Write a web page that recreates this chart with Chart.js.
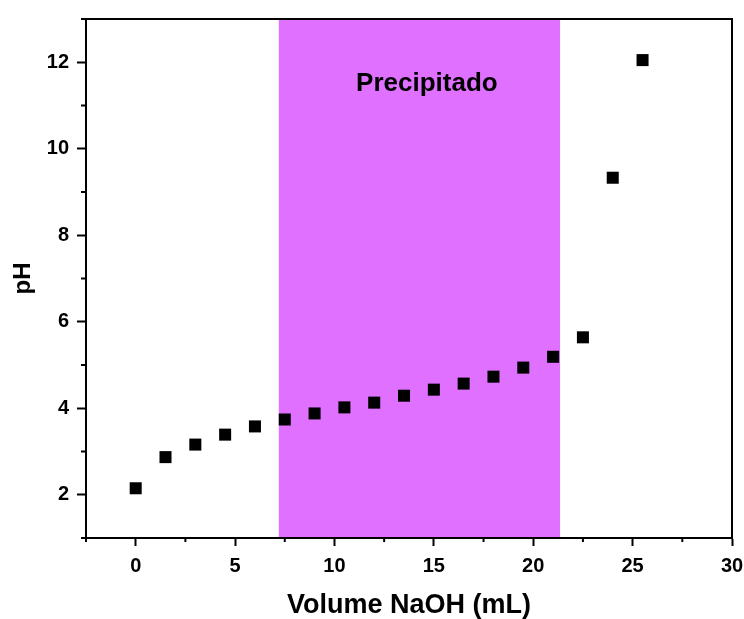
<!DOCTYPE html>
<html>
<head>
<meta charset="utf-8">
<script src="https://cdn.jsdelivr.net/npm/chart.js@4.4.0/dist/chart.umd.min.js"></script>
<style>
  html, body { margin: 0; padding: 0; background: #fff; }
</style>
</head>
<body>
<canvas id="phChart" width="744" height="619"></canvas>
<script>
// titration data
const volumeNaOH = [0, 1.5, 3, 4.5, 6, 7.5, 9, 10.5, 12, 13.5, 15, 16.5, 18, 19.5, 21, 22.5, 24, 25.5];
const phValues = [2.15, 2.87, 3.16, 3.39, 3.58, 3.74, 3.88, 4.02, 4.13, 4.29, 4.43, 4.57, 4.73, 4.94, 5.19, 5.64, 9.33, 12.05];

// shaded zone where the precipitate shows up
const precipitadoRange = [7.2, 21.35];
const precipitadoLabel = 'Precipitado';
const precipitadoLabelAt = [14.65, 11.5];

const xMajorTicks = [0, 5, 10, 15, 20, 25, 30];
const xMinorTicks = [-2.5, 2.5, 7.5, 12.5, 17.5, 22.5, 27.5];
const yMajorTicks = [2, 4, 6, 8, 10, 12];
const yMinorTicks = [1, 3, 5, 7, 9, 11, 13];

const FONT = "'Liberation Sans', Arial, sans-serif";
Chart.defaults.font.family = FONT;

const bandPlugin = {
    id: 'band',
    beforeDraw: (chart) => {
        const { ctx, chartArea, scales: { x } } = chart;
        const x0 = x.getPixelForValue(precipitadoRange[0]);
        const x1 = x.getPixelForValue(precipitadoRange[1]);
        ctx.save();
        ctx.fillStyle = '#E070FF';
        ctx.fillRect(x0, chartArea.top, x1 - x0, chartArea.bottom - chartArea.top);
        ctx.restore();
    },
    beforeDatasetsDraw: (chart) => {
        const { ctx, scales: { x, y } } = chart;
        ctx.save();
        ctx.fillStyle = '#000';
        ctx.font = 'bold 26px ' + FONT;
        ctx.textAlign = 'center';
        ctx.textBaseline = 'middle';
        ctx.fillText(precipitadoLabel, x.getPixelForValue(precipitadoLabelAt[0]), y.getPixelForValue(precipitadoLabelAt[1]));
        ctx.restore();
    }
};

// box frame + minor ticks (chart.js has no minor ticks)
const framePlugin = {
    id: 'frame',
    afterDraw: (chart) => {
        const { ctx, chartArea: a, scales: { x, y } } = chart;
        ctx.save();
        ctx.strokeStyle = '#000';
        ctx.lineWidth = 2;
        ctx.beginPath();
        ctx.moveTo(a.left, a.top);
        ctx.lineTo(a.right, a.top);
        ctx.lineTo(a.right, a.bottom);
        xMinorTicks.forEach(v => {
            const px = x.getPixelForValue(v);
            ctx.moveTo(px, a.bottom);
            ctx.lineTo(px, a.bottom + 4);
        });
        yMinorTicks.forEach(v => {
            const py = y.getPixelForValue(v);
            ctx.moveTo(a.left, py);
            ctx.lineTo(a.left - 5, py);
        });
        ctx.stroke();
        ctx.restore();
    }
};

new Chart(document.getElementById('phChart'), {
    type: 'scatter',
    data: {
        datasets: [{
            label: 'pH',
            data: volumeNaOH.map((v, i) => ({ x: v, y: phValues[i] })),
            pointStyle: 'rect',
            pointRadius: 8.5,
            backgroundColor: '#000',
            borderWidth: 0,
        }]
    },
    options: {
        responsive: false,
        animation: false,
        events: [],
        layout: { padding: { top: 19, right: 12, left: 0, bottom: 0 } },
        scales: {
            x: {
                type: 'linear',
                min: -2.5,
                max: 30,
                afterBuildTicks: (s) => { s.ticks = xMajorTicks.map(v => ({ value: v })); },
                afterFit: (s) => { s.height = 81; s.paddingLeft = 0; s.paddingRight = 0; },
                grid: { drawOnChartArea: false, drawTicks: true, tickLength: 8, tickWidth: 2, tickColor: '#000' },
                border: { display: true, color: '#000', width: 2 },
                ticks: { color: '#000', font: { size: 20, weight: 'bold' }, padding: 8, maxRotation: 0 },
                title: {
                    display: true,
                    text: 'Volume NaOH (mL)',
                    color: '#000',
                    font: { size: 27, weight: 'bold', lineHeight: 1 },
                    padding: 0
                }
            },
            y: {
                min: 1,
                max: 13,
                afterBuildTicks: (s) => { s.ticks = yMajorTicks.map(v => ({ value: v })); },
                afterFit: (s) => { s.width = 86; s.paddingTop = 0; s.paddingBottom = 0; },
                grid: { drawOnChartArea: false, drawTicks: true, tickLength: 9, tickWidth: 2, tickColor: '#000' },
                border: { display: true, color: '#000', width: 2 },
                ticks: { color: '#000', font: { size: 20, weight: 'bold' }, padding: 8 },
                title: {
                    display: true,
                    text: 'pH',
                    color: '#000',
                    font: { size: 24, weight: 'bold', lineHeight: 1 },
                    padding: { top: 11, bottom: 0 }
                }
            }
        },
        plugins: {
            legend: { display: false },
            tooltip: { enabled: false }
        }
    },
    plugins: [bandPlugin, framePlugin]
});
</script>
</body>
</html>
